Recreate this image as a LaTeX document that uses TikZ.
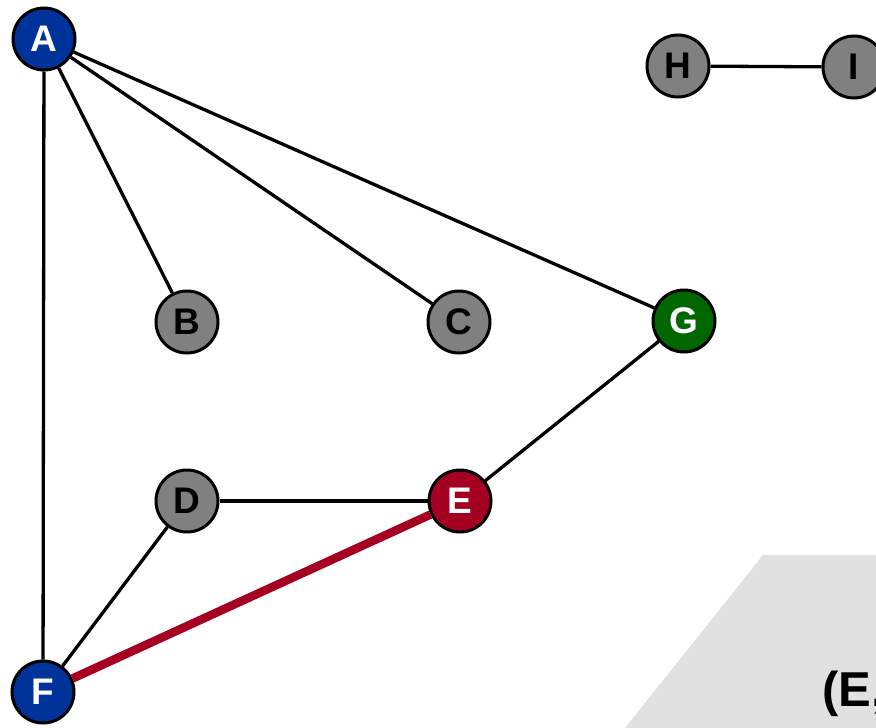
\documentclass[tikz,border=0pt]{standalone}
\usepackage{fontspec}
\setmainfont{Liberation Sans}
\definecolor{nblue}{HTML}{003399}
\definecolor{nred}{HTML}{A50021}
\definecolor{ngreen}{HTML}{006600}
\definecolor{ngray}{HTML}{808080}
\definecolor{bggray}{HTML}{E1E1E1}
\tikzset{
  vtx/.style={circle, draw=black, line width=3pt, minimum size=62pt, inner sep=0pt,
    font=\fontsize{37}{37}\selectfont\bfseries},
  gv/.style={vtx, fill=ngray, text=black},
  bv/.style={vtx, fill=nblue, text=white},
  rv/.style={vtx, fill=nred, text=white},
  grv/.style={vtx, fill=ngreen, text=white},
  edge/.style={line width=3.3pt, black},
  hot/.style={line width=8.5pt, nred},
}
\begin{document}
\begin{tikzpicture}[x=1pt, y=-1pt]
\useasboundingbox (0,0) rectangle (876,728);
\clip (0,0) rectangle (876,728);
\fill[bggray] (763,555) -- (876,555) -- (876,728) -- (625,728) -- cycle;
\node[anchor=base west, inner sep=0pt, font=\fontsize{49}{49}\selectfont\bfseries] (lbl) at (822,706) {(E,};
\node[bv] (A) at (44,39) {A};
\node[gv] (B) at (187,322) {B};
\node[gv] (C) at (459,322) {C};
\node[grv] (G) at (684,321) {G};
\node[gv] (H) at (678,66) {H};
\node[gv] (I) at (854,67) {I};
\node[gv] (D) at (187,501) {D};
\node[rv] (E) at (460,501) {E};
\node[bv] (F) at (43,692) {F};
\draw[edge] (A) -- (B);
\draw[edge] (A) -- (C);
\draw[edge] (A) -- (G);
\draw[edge] (A) -- (F);
\draw[edge] (G) -- (E);
\draw[edge] (D) -- (E);
\draw[edge] (D) -- (F);
\draw[edge] (H) -- (I);
\draw[hot] (E) -- (F);
\end{tikzpicture}
\end{document}
